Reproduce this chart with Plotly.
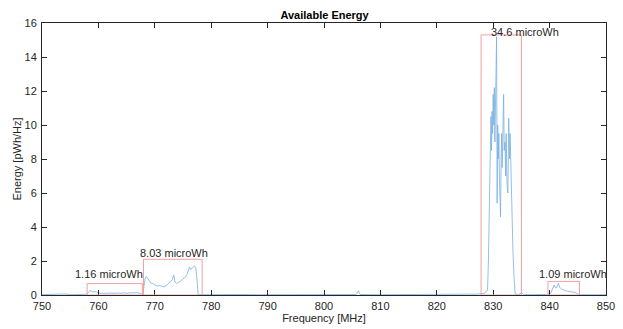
import plotly.graph_objects as go

# ---- data ----
freq_mhz = [750.0, 751.5, 753.0, 754.1, 755.0, 757.0, 758.0, 758.3, 758.5, 758.8, 759.2, 759.6,
            760.0, 760.5, 761.0, 761.5, 762.0, 762.5, 763.0, 763.5, 764.0, 764.5, 765.0, 765.5,
            766.0, 766.5, 767.0, 767.4, 767.7, 767.9, 768.1, 768.3, 768.5, 768.7, 769.0, 769.3,
            769.6, 770.0, 770.4, 770.8, 771.2, 771.6, 772.0, 772.4, 772.8, 773.1, 773.35, 773.6,
            773.9, 774.2, 774.6, 775.0, 775.4, 775.7, 776.0, 776.15, 776.35, 776.6, 776.85, 777.05,
            777.3, 777.5, 777.7, 778.5, 780.0, 782.0, 785.0, 788.0, 790.0, 793.0, 796.0, 800.0,
            803.0, 805.7, 806.1, 806.4, 810.0, 815.0, 820.0, 823.0, 825.0, 827.0, 828.5, 829.0,
            829.15, 829.3, 829.4, 829.5, 829.6, 829.7, 829.8, 829.9, 830.0, 830.1, 830.2, 830.3,
            830.4, 830.5, 830.6, 830.7, 830.8, 830.9, 831.0, 831.1, 831.2, 831.3, 831.4, 831.5,
            831.6, 831.7, 831.85, 831.95, 832.1, 832.2, 832.3, 832.45, 832.6, 832.75, 832.9, 833.0,
            833.1, 833.3, 833.5, 833.7, 833.9, 834.5, 835.1, 835.4, 837.0, 839.5, 840.2, 840.5,
            840.8, 841.05, 841.3, 841.55, 841.8, 842.1, 842.4, 842.8, 843.2, 843.6, 844.0, 844.5,
            844.9, 845.2, 847.0, 850.0]
energy_pwh_hz = [0.02, 0.03, 0.02, 0.06, 0.02, 0.03, 0.04, 0.20, 0.26, 0.22, 0.18, 0.20,
                 0.12, 0.10, 0.12, 0.10, 0.11, 0.09, 0.10, 0.12, 0.10, 0.13, 0.10, 0.12,
                 0.11, 0.13, 0.14, 0.10, 0.05, 0.10, 0.60, 1.00, 1.08, 0.95, 0.85, 0.70,
                 0.68, 0.60, 0.52, 0.56, 0.50, 0.48, 0.55, 0.65, 0.78, 0.90, 1.18, 0.75,
                 0.68, 0.75, 0.80, 0.95, 1.05, 1.20, 1.45, 1.65, 1.50, 1.58, 1.60, 1.72,
                 1.55, 0.60, 0.02, 0.02, 0.03, 0.02, 0.03, 0.02, 0.02, 0.03, 0.02, 0.02,
                 0.03, 0.03, 0.24, 0.03, 0.02, 0.03, 0.02, 0.04, 0.06, 0.05, 0.10, 0.30,
                 2.0, 5.5, 8.5, 9.0, 10.5, 8.5, 10.8, 9.5, 11.8, 10.0, 12.2, 9.0,
                 11.0, 13.5, 15.2, 5.4, 10.0, 8.0, 9.5, 7.0, 6.0, 4.6, 8.0, 9.5,
                 7.5, 10.5, 11.8, 8.5, 9.0, 7.0, 9.5, 6.5, 6.0, 10.4, 8.0, 9.5,
                 8.0, 5.0, 2.6, 1.0, 0.05, 0.03, 0.12, 0.02, 0.02, 0.03, 0.10, 0.40,
                 0.59, 0.42, 0.45, 0.69, 0.45, 0.35, 0.30, 0.25, 0.22, 0.20, 0.18, 0.15,
                 0.08, 0.02, 0.02, 0.02]

band_lo = [758.0, 768.0, 827.85, 839.7]
band_hi = [767.8, 778.4, 835.0, 845.3]
band_top = [0.67, 2.1, 15.3, 0.8]
band_labels = ["1.16 microWh", "8.03 microWh", "34.6 microWh", "1.09 microWh"]
label_x = [761.9, 773.4, 835.6, 844.2]
label_y = [1.22, 2.46, 15.5, 1.24]

x_ticks = [750, 760, 770, 780, 790, 800, 810, 820, 830, 840, 850]
y_ticks = [0, 2, 4, 6, 8, 10, 12, 14, 16]

FONT = "Liberation Sans, Arial, Helvetica, sans-serif"
TXT = "#262626"

fig = go.Figure()
fig.add_trace(go.Scatter(x=freq_mhz, y=energy_pwh_hz, mode="lines",
                         line=dict(color="rgb(120,176,224)", width=0.8),
                         showlegend=False, hoverinfo="skip"))

for lo, hi, top in zip(band_lo, band_hi, band_top):
    fig.add_shape(type="rect", xref="x", yref="y", x0=lo, x1=hi, y0=0, y1=top,
                  line=dict(color="rgb(244,160,160)", width=1), fillcolor="rgba(0,0,0,0)",
                  layer="above")

for lx, ly, t in zip(label_x, label_y, band_labels):
    fig.add_annotation(x=lx, y=ly, xref="x", yref="y", text=t, showarrow=False,
                       font=dict(family=FONT, size=11, color=TXT), xanchor="center",
                       yanchor="middle")

axis_common = dict(showgrid=False, zeroline=False, showline=True, linecolor=TXT, linewidth=1,
                   mirror="ticks", ticks="inside", ticklen=5, tickcolor=TXT, tickwidth=1,
                   automargin=False,
                   tickfont=dict(family=FONT, size=11, color=TXT))

fig.update_layout(
    width=623, height=329,
    margin=dict(l=42, r=17, t=23, b=34),
    paper_bgcolor="white", plot_bgcolor="white",
    title=dict(text="<b>Available Energy</b>", x=0.521, xanchor="center", y=0.955, yanchor="middle",
               font=dict(family=FONT, size=11, color="black")),
    xaxis=dict(range=[750, 850], tickvals=x_ticks, ticktext=[str(v) for v in x_ticks],
               ticklabelstandoff=1,
               title=dict(text="Frequency [MHz]", standoff=0,
                          font=dict(family=FONT, size=11, color=TXT)),
               **axis_common),
    yaxis=dict(range=[0, 16], tickvals=y_ticks, ticktext=[str(v) for v in y_ticks],
               ticklabelstandoff=2,
               title=dict(text="Energy [pWh/Hz]", standoff=0,
                          font=dict(family=FONT, size=11, color=TXT)),
               **axis_common),
)

fig.write_html("out.html")
